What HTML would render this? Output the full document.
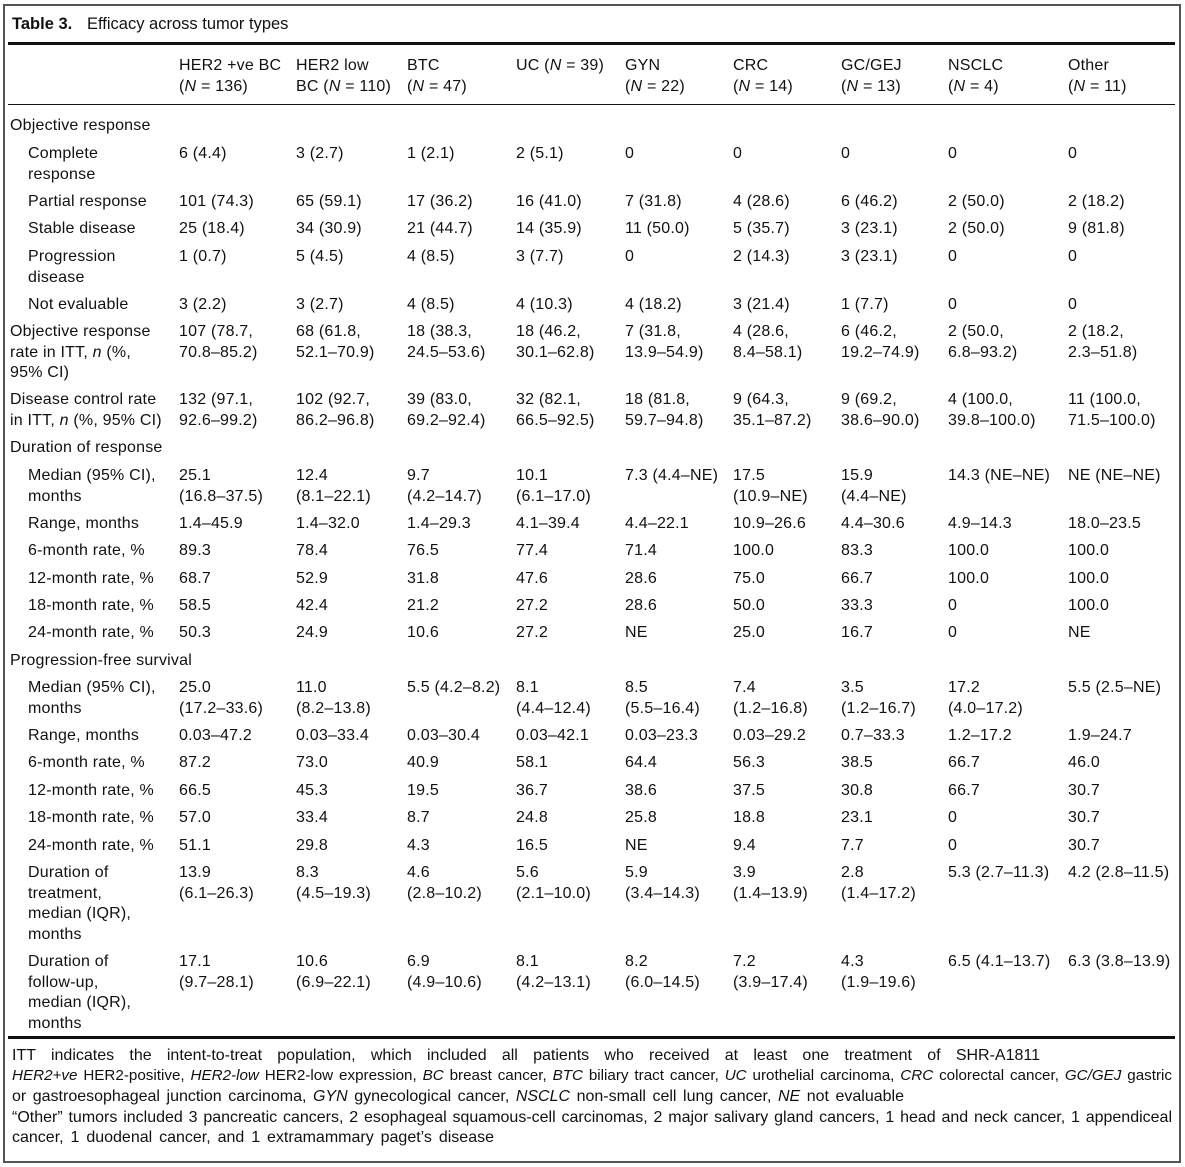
<!DOCTYPE html>
<html><head><meta charset="utf-8">
<style>
body{margin:0;background:#fff;width:1185px;height:1167px;position:relative;overflow:hidden;font-family:"Liberation Sans",sans-serif;color:#111;}
.box{position:absolute;left:3px;top:4px;width:1174px;height:1155px;border:2px solid #555;}
.hl{position:absolute;left:8px;width:1167px;background:#111;}
.r{position:absolute;left:0;width:1185px;}
.r span{position:absolute;white-space:nowrap;font-size:16px;line-height:20.5px;letter-spacing:0.2px;}
.fl{position:absolute;left:12px;font-size:16px;line-height:20.6px;white-space:nowrap;text-align:justify;text-align-last:justify;}
</style></head><body>
<div class="box"></div>
<div style="position:absolute;left:12px;top:15px;font-size:16.5px;"><b>Table 3.</b><span style="position:absolute;left:75px;white-space:nowrap">Efficacy across tumor types</span></div>
<div class="hl" style="top:42px;height:3px"></div>
<div class="hl" style="top:104px;height:1px"></div>
<div class="hl" style="top:1036px;height:3px"></div>

<div id="t"></div>

<div>
<div class="fl" style="top:1046px;width:1028px">ITT indicates the intent-to-treat population, which included all patients who received at least one treatment of SHR-A1811</div>
<div class="fl" style="top:1066px;width:1160px;font-size:15.2px"><i>HER2+ve</i> HER2-positive, <i>HER2-low</i> HER2-low expression, <i>BC</i> breast cancer, <i>BTC</i> biliary tract cancer, <i>UC</i> urothelial carcinoma, <i>CRC</i> colorectal cancer, <i>GC/GEJ</i> gastric</div>
<div class="fl" style="top:1087px;width:892px">or gastroesophageal junction carcinoma, <i>GYN</i> gynecological cancer, <i>NSCLC</i> non-small cell lung cancer, <i>NE</i> not evaluable</div>
<div class="fl" style="top:1108px;width:1160px">“Other” tumors included 3 pancreatic cancers, 2 esophageal squamous-cell carcinomas, 2 major salivary gland cancers, 1 head and neck cancer, 1 appendiceal</div>
<div class="fl" style="top:1128px;width:482px">cancer, 1 duodenal cancer, and 1 extramammary paget’s disease</div>
</div>

<script>
const colX=[179,296,407,516,625,733,841,948,1068];
const header=["HER2 +ve BC<br>(<i>N</i> = 136)","HER2 low<br>BC (<i>N</i> = 110)","BTC<br>(<i>N</i> = 47)","UC (<i>N</i> = 39)","GYN<br>(<i>N</i> = 22)","CRC<br>(<i>N</i> = 14)","GC/GEJ<br>(<i>N</i> = 13)","NSCLC<br>(<i>N</i> = 4)","Other<br>(<i>N</i> = 11)"];
const rows=[
[54,"",0,header],
[114,"Objective response",0,[]],
[142,"Complete<br>response",1,["6 (4.4)","3 (2.7)","1 (2.1)","2 (5.1)","0","0","0","0","0"]],
[190,"Partial response",1,["101 (74.3)","65 (59.1)","17 (36.2)","16 (41.0)","7 (31.8)","4 (28.6)","6 (46.2)","2 (50.0)","2 (18.2)"]],
[217,"Stable disease",1,["25 (18.4)","34 (30.9)","21 (44.7)","14 (35.9)","11 (50.0)","5 (35.7)","3 (23.1)","2 (50.0)","9 (81.8)"]],
[245,"Progression<br>disease",1,["1 (0.7)","5 (4.5)","4 (8.5)","3 (7.7)","0","2 (14.3)","3 (23.1)","0","0"]],
[293,"Not evaluable",1,["3 (2.2)","3 (2.7)","4 (8.5)","4 (10.3)","4 (18.2)","3 (21.4)","1 (7.7)","0","0"]],
[320,"Objective response<br>rate in ITT, <i>n</i> (%,<br>95% CI)",0,["107 (78.7,<br>70.8–85.2)","68 (61.8,<br>52.1–70.9)","18 (38.3,<br>24.5–53.6)","18 (46.2,<br>30.1–62.8)","7 (31.8,<br>13.9–54.9)","4 (28.6,<br>8.4–58.1)","6 (46.2,<br>19.2–74.9)","2 (50.0,<br>6.8–93.2)","2 (18.2,<br>2.3–51.8)"]],
[388,"Disease control rate<br>in ITT, <i>n</i> (%, 95% CI)",0,["132 (97.1,<br>92.6–99.2)","102 (92.7,<br>86.2–96.8)","39 (83.0,<br>69.2–92.4)","32 (82.1,<br>66.5–92.5)","18 (81.8,<br>59.7–94.8)","9 (64.3,<br>35.1–87.2)","9 (69.2,<br>38.6–90.0)","4 (100.0,<br>39.8–100.0)","11 (100.0,<br>71.5–100.0)"]],
[436,"Duration of response",0,[]],
[464,"Median (95% CI),<br>months",1,["25.1<br>(16.8–37.5)","12.4<br>(8.1–22.1)","9.7<br>(4.2–14.7)","10.1<br>(6.1–17.0)","7.3 (4.4–NE)","17.5<br>(10.9–NE)","15.9<br>(4.4–NE)","14.3 (NE–NE)","NE (NE–NE)"]],
[512,"Range, months",1,["1.4–45.9","1.4–32.0","1.4–29.3","4.1–39.4","4.4–22.1","10.9–26.6","4.4–30.6","4.9–14.3","18.0–23.5"]],
[539,"6-month rate, %",1,["89.3","78.4","76.5","77.4","71.4","100.0","83.3","100.0","100.0"]],
[567,"12-month rate, %",1,["68.7","52.9","31.8","47.6","28.6","75.0","66.7","100.0","100.0"]],
[594,"18-month rate, %",1,["58.5","42.4","21.2","27.2","28.6","50.0","33.3","0","100.0"]],
[621,"24-month rate, %",1,["50.3","24.9","10.6","27.2","NE","25.0","16.7","0","NE"]],
[649,"Progression-free survival",0,[]],
[676,"Median (95% CI),<br>months",1,["25.0<br>(17.2–33.6)","11.0<br>(8.2–13.8)","5.5 (4.2–8.2)","8.1<br>(4.4–12.4)","8.5<br>(5.5–16.4)","7.4<br>(1.2–16.8)","3.5<br>(1.2–16.7)","17.2<br>(4.0–17.2)","5.5 (2.5–NE)"]],
[724,"Range, months",1,["0.03–47.2","0.03–33.4","0.03–30.4","0.03–42.1","0.03–23.3","0.03–29.2","0.7–33.3","1.2–17.2","1.9–24.7"]],
[751,"6-month rate, %",1,["87.2","73.0","40.9","58.1","64.4","56.3","38.5","66.7","46.0"]],
[779,"12-month rate, %",1,["66.5","45.3","19.5","36.7","38.6","37.5","30.8","66.7","30.7"]],
[806,"18-month rate, %",1,["57.0","33.4","8.7","24.8","25.8","18.8","23.1","0","30.7"]],
[834,"24-month rate, %",1,["51.1","29.8","4.3","16.5","NE","9.4","7.7","0","30.7"]],
[861,"Duration of<br>treatment,<br>median (IQR),<br>months",1,["13.9<br>(6.1–26.3)","8.3<br>(4.5–19.3)","4.6<br>(2.8–10.2)","5.6<br>(2.1–10.0)","5.9<br>(3.4–14.3)","3.9<br>(1.4–13.9)","2.8<br>(1.4–17.2)","5.3 (2.7–11.3)","4.2 (2.8–11.5)"]],
[950,"Duration of<br>follow-up,<br>median (IQR),<br>months",1,["17.1<br>(9.7–28.1)","10.6<br>(6.9–22.1)","6.9<br>(4.9–10.6)","8.1<br>(4.2–13.1)","8.2<br>(6.0–14.5)","7.2<br>(3.9–17.4)","4.3<br>(1.9–19.6)","6.5 (4.1–13.7)","6.3 (3.8–13.9)"]]
];
const t=document.getElementById('t');
rows.forEach((r,i)=>{
  const d=document.createElement('div');
  d.className='r';d.style.top=(r[0]+2)+'px';
  
  
  if(r[1]){const s=document.createElement('span');s.style.left=(r[2]?28:10)+'px';s.innerHTML=r[1];
    
    
    d.appendChild(s);}
  r[3].forEach((v,j)=>{const s=document.createElement('span');s.style.left=colX[j]+'px';s.innerHTML=v;
    
    
    d.appendChild(s);});
  t.appendChild(d);
});
</script>
</body></html>
